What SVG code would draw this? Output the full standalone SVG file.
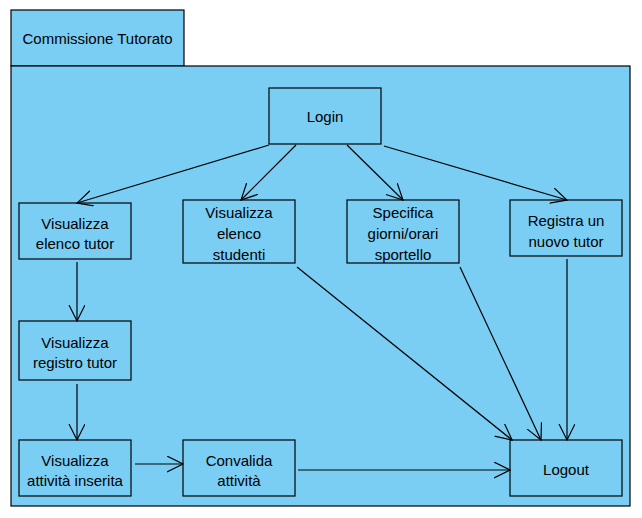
<svg xmlns="http://www.w3.org/2000/svg" width="642" height="518" viewBox="0 0 642 518">
<style>
.pkg{fill:#7ACEF4;stroke:#000;stroke-width:1.2}
.n{fill:#7ACEF4;stroke:#000;stroke-width:1.2}
text{font-family:"Liberation Sans",Arial,sans-serif;font-size:15px;fill:#000;text-anchor:middle}
.e{stroke:#000;stroke-width:1.2;fill:none;marker-end:url(#a)}
</style>
<defs>
<marker id="a" markerWidth="20" markerHeight="20" refX="16" refY="8" orient="auto" markerUnits="userSpaceOnUse">
<path d="M0,0 L16,8 L0,16" fill="none" stroke="#000" stroke-width="1.2"/>
</marker>
</defs>
<rect width="642" height="518" fill="#fff"/>
<g id="package">
<rect class="pkg" x="11" y="10" width="173" height="56"/>
<rect class="pkg" x="11" y="66" width="619" height="440"/>
<text x="97.5" y="44" text-anchor="middle">Commissione Tutorato</text>
</g>
<g id="login"><rect class="n" x="269" y="88" width="112" height="56"/><text x="325" y="122">Login</text></g>
<g id="elenco-tutor"><rect class="n" x="19" y="203" width="112" height="56"/><text x="75" y="229">Visualizza</text><text x="75" y="249">elenco tutor</text></g>
<g id="elenco-studenti"><rect class="n" x="183" y="200" width="112" height="63"/><text x="239" y="218">Visualizza</text><text x="239" y="239">elenco</text><text x="239" y="260">studenti</text></g>
<g id="specifica"><rect class="n" x="347" y="200" width="112" height="63"/><text x="403" y="218">Specifica</text><text x="403" y="239">giorni/orari</text><text x="403" y="260">sportello</text></g>
<g id="registra"><rect class="n" x="510" y="200" width="112" height="56"/><text x="566" y="226">Registra un</text><text x="566" y="247">nuovo tutor</text></g>
<g id="registro-tutor"><rect class="n" x="19" y="321" width="112" height="59"/><text x="75" y="348">Visualizza</text><text x="75" y="368">registro tutor</text></g>
<g id="attivita-inserita"><rect class="n" x="19" y="440" width="112" height="56"/><text x="75" y="466">Visualizza</text><text x="75" y="486">attività inserita</text></g>
<g id="convalida"><rect class="n" x="183" y="440" width="112" height="56"/><text x="239" y="466">Convalida</text><text x="239" y="486">attività</text></g>
<g id="logout"><rect class="n" x="510" y="440" width="112" height="56"/><text x="566" y="475">Logout</text></g>
<g id="connectors">
<line class="e" x1="269" y1="145" x2="77" y2="203"/>
<line class="e" x1="296" y1="145" x2="241" y2="200"/>
<line class="e" x1="347" y1="145" x2="403" y2="200"/>
<line class="e" x1="384" y1="146" x2="567" y2="200"/>
<line class="e" x1="77" y1="262" x2="77" y2="321"/>
<line class="e" x1="77" y1="384" x2="77" y2="440"/>
<line class="e" x1="135" y1="464" x2="183" y2="464"/>
<line class="e" x1="298" y1="470" x2="510" y2="470"/>
<line class="e" x1="297" y1="267" x2="512" y2="440"/>
<line class="e" x1="460" y1="267" x2="541" y2="440"/>
<line class="e" x1="567" y1="259" x2="567" y2="440"/>
</g>
</svg>
